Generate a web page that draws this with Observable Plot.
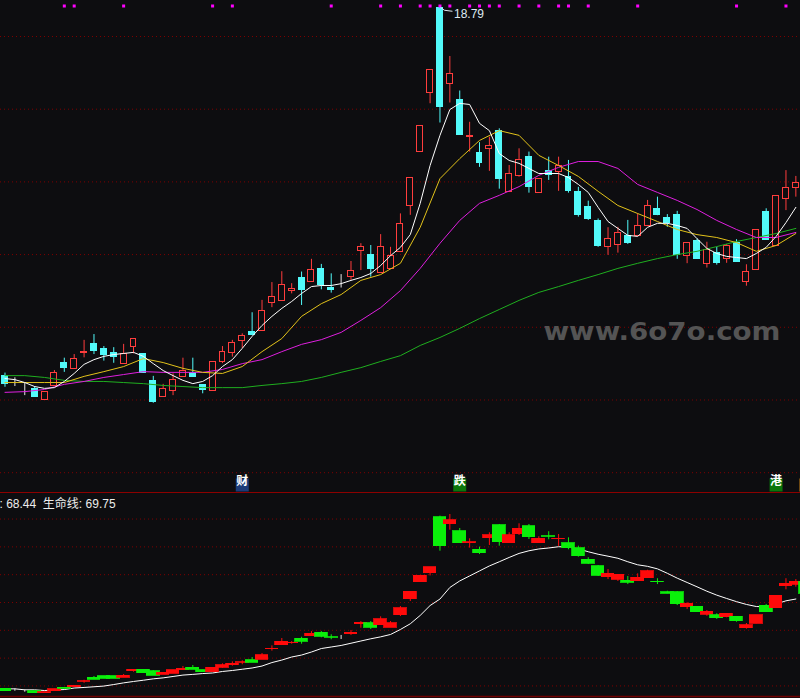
<!DOCTYPE html>
<html>
<head>
<meta charset="utf-8">
<script src="https://cdn.jsdelivr.net/npm/d3@7"></script>
<script src="https://cdn.jsdelivr.net/npm/@observablehq/plot@0.6"></script>
<style>
  html, body { margin: 0; padding: 0; background: #0d0d10; overflow: hidden; }
  #chart svg { display: block; }
</style>
</head>
<body>
<div id="chart"></div>
<script>
// ---- Price candles (upper panel), one entry per trading day ----
const topOpen = [8.65,8.40,8.31,8.31,8.01,8.38,9.01,8.86,9.28,9.53, 9.39,9.30,8.98,9.45,9.27,8.51,8.08,8.24,8.63,8.74,
  8.40,8.26,9.04,9.29,9.62,9.86,9.91,10.67,10.72,10.99, 11.36,11.24,11.61,11.08,11.21,11.38,12.09,12.00,11.49,11.61,
  12.07,13.34,14.82,16.45,18.79,16.70,16.24,15.24,14.80,14.90, 15.41,13.72,14.15,14.68,13.69,14.29,14.27,14.13,13.71,13.30,
  12.92,12.20,12.27,12.50,12.50,12.78,13.26,13.02,13.10,11.97, 12.37,11.75,12.04,11.87,12.32,11.25,11.58,13.16,12.23,13.52,
  13.84];
const topHigh = [8.74,8.61,8.46,8.37,8.23,8.81,9.15,9.25,9.64,9.80, 9.47,9.44,9.53,9.68,9.27,8.65,8.43,8.72,9.15,9.15,
  8.40,9.05,9.47,9.64,9.82,10.40,10.74,11.23,11.53,11.20, 11.52,11.87,11.73,11.47,11.45,11.81,12.30,12.25,12.55,12.20,
  13.12,14.11,15.55,17.08,18.79,17.45,16.50,15.64,15.08,15.23, 15.46,14.45,14.91,14.82,14.09,14.68,14.68,14.59,13.85,13.47,
  12.98,12.74,12.75,12.94,13.12,13.49,13.58,13.10,13.19,12.32, 12.43,12.34,12.20,12.28,12.41,11.72,12.68,13.26,13.62,14.31,
  14.15];
const topLow = [8.35,8.37,8.12,8.08,8.01,8.38,8.76,8.86,9.16,9.25, 9.07,9.01,8.98,9.27,8.74,7.91,8.08,8.12,8.63,8.63,
  8.17,8.26,9.00,9.18,9.42,9.77,9.91,10.54,10.72,10.92, 10.60,11.24,11.03,10.94,11.08,11.29,11.56,11.38,11.49,11.61,
  12.07,13.08,14.82,16.15,15.62,16.17,15.28,14.82,14.40,14.29, 13.80,13.72,14.13,13.69,13.69,14.04,13.74,13.69,13.03,12.94,
  12.20,11.98,12.04,12.28,12.50,12.78,13.07,12.75,11.87,11.75, 11.87,11.63,11.71,11.76,11.79,11.13,11.58,12.41,12.23,13.21,
  13.58];
const topClose = [8.44,8.40,8.31,8.08,8.23,8.75,8.89,9.13,9.33,9.34, 9.25,9.18,9.27,9.68,8.74,7.94,8.31,8.56,8.79,8.63,
  8.28,9.05,9.33,9.57,9.77,9.80,10.46,10.84,11.17,11.06, 11.02,11.58,11.17,11.03,11.21,11.56,12.22,11.59,12.22,11.95,
  12.85,14.11,15.55,17.08,16.06,16.97,15.28,15.25,14.53,15.00, 14.07,14.22,14.59,13.85,14.09,14.20,14.43,13.76,13.10,12.97,
  12.24,12.43,12.60,12.31,12.79,13.34,13.10,12.88,12.00,12.32, 11.87,12.13,11.76,12.23,11.79,11.53,12.68,12.41,13.62,13.84,
  13.98];

// ---- Moving averages: MA5 every day, the slower ones every second day ----
const ma5 = [8.59,8.56,8.48,8.37,8.32,8.34,8.51,8.73,8.98,9.11, 9.20,9.25,9.28,9.31,9.20,9.00,8.81,8.67,8.54,8.45,
  8.51,8.67,8.92,9.11,9.42,9.75,10.05,10.30,10.52,10.71, 10.93,11.12,11.15,11.15,11.20,11.29,11.37,11.48,11.70,11.97,
  12.20,12.55,13.41,14.45,15.28,15.99,16.16,16.13,15.61,15.41, 14.78,14.59,14.51,14.37,14.23,14.23,14.23,14.12,13.93,13.71,
  13.30,12.91,12.72,12.53,12.50,12.75,12.86,12.86,12.80,12.72, 12.44,12.17,12.03,11.95,11.92,11.89,12.03,12.20,12.50,12.88,
  13.30];
const ma10 = [8.48,8.48,8.48,8.48,8.65,8.78,8.92,9.14,9.03,8.87, 8.76,8.73,8.92,9.33,9.69,10.30,10.65,10.90,11.29,11.45,
  11.76,12.75,14.09,14.64,15.14,15.41,15.28,14.73,14.45,14.15, 13.74,13.35,13.13,12.91,12.69,12.55,12.47,12.33,12.09,12.25,
  12.58];
const ma20 = [8.21,8.23,8.29,8.43,8.51,8.62,8.70,8.78,8.76,8.76, 8.76,8.84,9.00,9.11,9.33,9.53,9.66,9.86,10.19,10.54,
  11.01,11.62,12.31,12.94,13.41,13.63,13.87,14.18,14.40,14.56, 14.56,14.37,13.93,13.71,13.49,13.24,12.94,12.69,12.47,12.47,
  12.61];
const ma60 = [8.67,8.67,8.62,8.54,8.51,8.51,8.48,8.45,8.40,8.37, 8.34,8.34,8.34,8.40,8.45,8.51,8.62,8.76,8.89,9.06,
  9.22,9.50,9.72,9.97,10.24,10.49,10.74,10.96,11.12,11.29, 11.45,11.62,11.76,11.89,12.00,12.09,12.22,12.36,12.47,12.58,
  12.72];

// ---- Lower indicator candles and its 生命线 ----
const lowerOpen = [63.29,63.21,63.13,63.12,62.98,63.12,63.36,63.39,63.79,64.10, 64.18,64.18,64.10,64.54,64.68,64.54,64.32,64.39,64.61,64.82,
  64.63,64.49,64.82,64.97,65.16,65.33,65.40,66.12,66.41,66.58, 66.91,67.08,67.34,67.00,66.98,67.20,67.94,67.99,67.85,67.70,
  68.59,69.72,70.94,71.59,75.62,75.13,74.61,73.77,73.31,74.13, 75.04,73.77,74.39,74.97,73.77,74.25,74.06,73.77,73.41,72.59,
  72.09,71.32,71.15,71.08,71.03,71.25,70.98,70.22,70.22,69.16, 69.21,68.62,68.57,68.44,68.49,67.65,67.97,69.28,69.09,70.67,
  70.79,70.96];
const lowerHigh = [63.29,63.29,63.22,63.12,63.05,63.26,63.36,63.53,63.91,64.18, 64.18,64.18,64.32,64.68,64.68,64.61,64.46,64.63,64.90,64.97,
  64.63,64.82,65.09,65.23,65.31,65.54,65.83,66.38,66.91,66.69, 67.00,67.41,67.41,67.18,67.13,67.49,68.13,68.13,68.47,68.13,
  69.21,70.29,71.44,72.02,75.71,75.83,74.82,74.08,73.48,74.51, 75.11,74.51,75.16,75.11,74.23,74.59,74.39,74.15,73.55,72.72,
  72.16,71.87,71.51,71.37,71.56,71.82,71.21,70.31,70.29,69.48, 69.21,68.92,68.69,68.69,68.49,67.99,68.57,69.36,70.00,71.21,
  71.15,70.96];
const lowerLow = [63.12,63.12,63.05,62.98,62.98,63.12,63.31,63.39,63.69,63.96, 64.03,64.03,64.10,64.49,64.41,64.25,64.32,64.39,64.61,64.68,
  64.49,64.49,64.77,64.92,65.02,65.18,65.40,66.00,66.41,66.50, 66.50,67.08,66.96,66.82,66.84,67.13,67.65,67.56,67.85,67.70,
  68.49,69.57,70.94,71.41,73.19,74.70,73.77,73.41,72.95,73.60, 73.55,73.77,74.32,74.03,73.77,74.01,73.53,73.29,72.76,72.23,
  71.37,71.15,71.01,70.79,71.03,71.25,70.79,70.13,69.28,69.00, 68.80,68.51,68.28,68.40,68.08,67.58,67.97,68.80,69.09,70.41,
  70.60,70.13];
const lowerClose = [63.12,63.21,63.13,62.98,63.05,63.26,63.31,63.53,63.84,63.96, 64.03,64.03,64.25,64.68,64.41,64.25,64.46,64.63,64.75,64.68,
  64.49,64.82,64.97,65.11,65.21,65.18,65.69,66.16,66.69,66.62, 66.69,67.27,67.05,66.96,66.98,67.34,68.06,67.70,68.28,67.99,
  69.07,70.29,71.44,72.02,73.55,75.40,73.77,73.82,73.05,74.32, 73.84,74.32,74.82,74.20,74.10,74.21,74.10,73.41,72.83,72.28,
  71.44,71.56,71.51,70.92,71.28,71.73,70.94,70.13,69.38,69.41, 68.80,68.85,68.37,68.69,68.15,67.85,68.57,68.80,70.00,70.85,
  70.99,70.13];
const lifeLine = [63.29,63.29,63.22,63.22,63.17,63.21,63.24,63.35,63.39,63.44, 63.49,63.60,63.72,63.82,63.91,64.01,64.08,64.18,64.28,64.33,
  64.39,64.43,64.54,64.61,64.70,64.79,64.93,65.18,65.36,65.58, 65.72,65.94,66.19,66.30,66.41,66.57,66.73,66.89,67.03,67.20,
  67.56,67.97,68.57,69.28,69.75,70.58,71.05,71.41,71.77,72.13, 72.43,72.74,73.03,73.22,73.35,73.42,73.51,73.49,73.35,73.15,
  72.97,72.83,72.68,72.43,72.21,72.10,71.92,71.60,71.25,70.94, 70.63,70.31,70.03,69.79,69.56,69.36,69.21,69.19,69.39,69.62,
  69.75];

// ---- Signals, event tags, grid levels, readouts ----
const signalDays = [6,7,12,21,23,33,38,40,42,43,44,45,47,48,49,50,52,54,56,57,59,64,74,79];
const tagDays = [24, 46, 78, 81];
const tagText = ["财", "跌", "港", ""];
const tagKind = ["news", "fall", "hk", "other"];
const priceGrid = [6, 8, 10, 12, 14, 16, 18];
const lowerGrid = [63.5, 65.5, 67.5, 69.5, 71.5, 73.5, 75.5];
const readoutA = 68.44;
const readoutLife = 69.75;
const watermark = "www.6o7o.com";

// ---- Styling ----
const BG = "#0d0d10";
const GRID = "#7e0000";
const UP = "#ff3d3d", DOWN = "#52fafa", FLAT = "#e6e6e6";
const L_UP = "#ff0a0a", L_DOWN = "#0af00a";
const TAG_FILL = {news: "#1b3b78", fall: "#0b760b", hk: "#0b760b", other: "#8a5a14"};
const X_DOMAIN = [-0.455, 80.47];
const TOP_DOMAIN = [5.455, 18.99];
const LOWER_DOMAIN = [62.74, 77.41];
const FONT = "'Liberation Sans', 'Noto Sans CJK SC', sans-serif";

const candles = topOpen.map((o, i) => ({i, open: o, high: topHigh[i], low: topLow[i], close: topClose[i]}));
const lowerCandles = lowerOpen.map((o, i) => ({i, open: o, high: lowerHigh[i], low: lowerLow[i], close: lowerClose[i]}));
const tone = d => d.close > d.open ? 1 : d.close < d.open ? -1 : 0;
const topColor = d => tone(d) > 0 ? UP : tone(d) < 0 ? DOWN : FLAT;
const lowerColor = d => tone(d) > 0 ? L_UP : tone(d) < 0 ? L_DOWN : FLAT;
const everyOther = arr => arr.map((v, k) => ({i: 2 * k, v}));
const daily = arr => arr.map((v, i) => ({i, v}));
const tags = tagDays.map((i, k) => ({i, text: tagText[k], kind: tagKind[k]}));
const peakDay = topHigh.indexOf(d3.max(topHigh));

const upper = Plot.plot({
  width: 800, height: 492, margin: 0,
  style: {background: BG, fontFamily: FONT},
  x: {domain: X_DOMAIN, axis: null},
  y: {domain: TOP_DOMAIN, axis: null},
  marks: [
    Plot.ruleY(priceGrid, {stroke: GRID, strokeDasharray: "1,3"}),
    Plot.text([watermark], {frameAnchor: "top-left", dx: 543, dy: 322, textAnchor: "start",
      fontSize: 25, fontWeight: "bold", fill: "#545454", fontFamily: "'DejaVu Sans', sans-serif"}),
    Plot.ruleX(candles, {x: "i", y1: "low", y2: "high", stroke: topColor}),
    Plot.rect(candles, {x1: d => d.i - 0.3, x2: d => d.i + 0.3, y1: "open", y2: "close",
      fill: d => tone(d) > 0 ? BG : topColor(d), stroke: topColor, shapeRendering: "crispEdges"}),
    Plot.line(everyOther(ma60), {x: "i", y: "v", stroke: "#1fae1f", strokeWidth: 1}),
    Plot.line(everyOther(ma20), {x: "i", y: "v", stroke: "#df1fdf", strokeWidth: 1}),
    Plot.line(everyOther(ma10), {x: "i", y: "v", stroke: "#e2c21a", strokeWidth: 1}),
    Plot.line(daily(ma5), {x: "i", y: "v", stroke: "#ffffff", strokeWidth: 1}),
    Plot.dot(signalDays, {x: d => d, frameAnchor: "top", dy: 5.5, symbol: "square", r: 1.7, fill: "#ff00ff"}),
    Plot.text([peakDay], {x: d => d, y: d => topHigh[d], text: d => topHigh[d].toFixed(2), dx: 14, dy: 6,
      textAnchor: "start", fontSize: 12, fill: "#dfe9f2"}),
    Plot.dot(tags, {x: "i", frameAnchor: "bottom", dy: -7.5, symbol: "square", r: 7.33,
      fill: d => TAG_FILL[d.kind]}),
    Plot.text(tags, {x: "i", frameAnchor: "bottom", dy: -7.5, text: "text", fontSize: 12,
      fontWeight: "bold", fill: "#ffffff"})
  ]
});

const lower = Plot.plot({
  width: 800, height: 206, marginTop: 0, marginBottom: 2, marginLeft: 0, marginRight: 0,
  style: {background: BG, fontFamily: FONT},
  x: {domain: X_DOMAIN, axis: null},
  y: {domain: LOWER_DOMAIN, axis: null},
  marks: [
    Plot.ruleY(lowerGrid, {stroke: GRID, strokeDasharray: "1,3"}),
    Plot.line(daily(lifeLine), {x: "i", y: "v", stroke: "#ffffff", strokeWidth: 1}),
    Plot.ruleX(lowerCandles, {x: "i", y1: "low", y2: "high", stroke: lowerColor, clip: true}),
    Plot.rect(lowerCandles, {x1: d => d.i - 0.64, x2: d => d.i + 0.64, y1: "open", y2: "close",
      fill: lowerColor, stroke: lowerColor, strokeWidth: 0.8, shapeRendering: "crispEdges", clip: true}),
    Plot.ruleY([LOWER_DOMAIN[1]], {stroke: "#8c0000"}),
    Plot.ruleY([LOWER_DOMAIN[0]], {stroke: "#6e0000", strokeWidth: 1.5}),
    Plot.text([`: ${readoutA.toFixed(2)}\u00a0\u00a0生命线: ${readoutLife.toFixed(2)}`],
      {frameAnchor: "top-left", dx: -1, dy: 7, textAnchor: "start", fontSize: 12, fill: "#ececec"})
  ]
});

const root = document.getElementById("chart");
root.append(upper, lower);

// stretch the watermark to its full width
d3.select(upper).selectAll("text").filter(function () { return this.textContent === watermark; })
  .attr("textLength", 237).attr("lengthAdjust", "spacingAndGlyphs");

// short leader from the peak high to its price label
const sx = upper.scale("x"), sy = upper.scale("y");
const px = sx.apply(peakDay), py = sy.apply(topHigh[peakDay]);
d3.select(upper).append("path")
  .attr("d", `M${px + 1},${py} L${px + 5},${py + 3} L${px + 13},${py + 4}`)
  .attr("fill", "none").attr("stroke", "#dfe9f2").attr("stroke-width", 1);
</script>
</body>
</html>
